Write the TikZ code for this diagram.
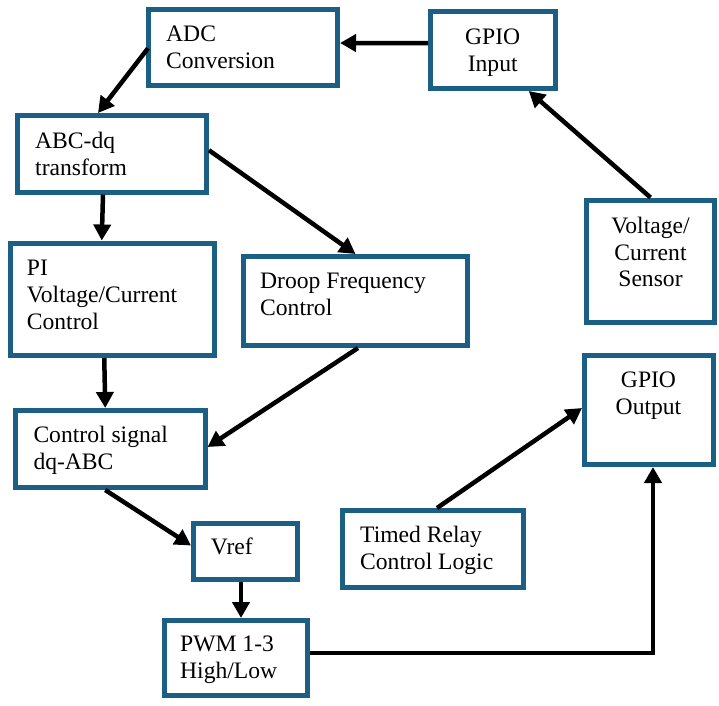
\documentclass[tikz,border=0pt]{standalone}
\usepackage{fontspec}
\setmainfont{Liberation Serif}
\usetikzlibrary{arrows.meta,calc}
\definecolor{boxblue}{HTML}{1B5F84}
\begin{document}
\begin{tikzpicture}[x=1pt,y=-1pt,
  box/.style={draw=boxblue, line width=5pt, inner sep=0pt, fill=white},
  txt/.style={inner sep=0pt, font=\fontsize{23.6}{26.7}\selectfont},
  ltxt/.style={txt, anchor=base west, align=left},
  ctxt/.style={txt, anchor=base, align=center},
  arr/.style={line width=4.5pt, -{Triangle[length=16pt,width=17pt]}}]
\useasboundingbox (0,0) rectangle (719,705);
\fill[white] (0,0) rectangle (719,705);
% boxes
\node[box, minimum width=189pt, minimum height=76.5pt] (adc) at (243,47.25) {};
\node[box, minimum width=124.5pt, minimum height=76.8pt] (gin) at (492.75,50.1) {};
\node[box, minimum width=189pt, minimum height=76.5pt] (abc) at (112,153.75) {};
\node[box, minimum width=204.5pt, minimum height=112.5pt] (pi) at (112.25,299.25) {};
\node[box, minimum width=224pt, minimum height=89pt] (droop) at (355.5,301) {};
\node[box, minimum width=128pt, minimum height=122.5pt] (sensor) at (650.5,261.25) {};
\node[box, minimum width=128.5pt, minimum height=109pt] (gout) at (648.75,410) {};
\node[box, minimum width=189.5pt, minimum height=77pt] (ctrl) at (110.25,449) {};
\node[box, minimum width=104pt, minimum height=56pt] (vref) at (245.5,551.5) {};
\node[box, minimum width=143pt, minimum height=75pt] (pwm) at (236,658) {};
\node[box, minimum width=181pt, minimum height=77pt] (timed) at (433,549) {};
% texts (anchored at baseline of last line)
\node[ltxt] (tadc) at (166,68.3) {ADC\\Conversion};
\node[ctxt] (tgin) at (492.7,71) {GPIO\\Input};
\node[ltxt] (tabc) at (35,175) {ABC-dq\\transform};
\node[ltxt] (tpi) at (26.7,329.3) {PI\\Voltage/Current\\Control};
\node[ltxt] (tdroop) at (260,315) {Droop Frequency\\Control};
\node[ctxt] (tsensor) at (650.5,286.7) {Voltage/\\Current\\Sensor};
\node[ctxt] (tgout) at (648.5,414) {GPIO\\Output};
\node[ltxt] (tctrl) at (33.3,469.3) {Control signal\\dq-ABC};
\node[ltxt] (tvref) at (210.7,554) {Vref};
\node[ltxt] (tpwm) at (180,678.3) {PWM 1-3\\High/Low};
\node[ltxt] (ttimed) at (360,569.3) {Timed Relay\\Control Logic};
% arrows
\draw[arr] ($(gin.west)+(0,-7)$) -- ($(adc.east)+(0,-4.25)$);
\draw[arr] ($(adc.west)+(2,1)$) -- ($(abc.north)+(-14,0)$);
\draw[arr] ($(abc.south)+(-9,0)$) -- ($(pi.north)+(-10.5,0)$);
\draw[arr] ($(abc.east)+(0,-3.5)$) -- (droop.north);
\draw[arr] (sensor.north) -- ($(gin.south)+(36,0)$);
\draw[arr] ($(pi.south)+(-8,0)$) -- ($(ctrl.north)+(-5,0)$);
\draw[arr] ($(droop.south)+(2.5,0)$) -- ($(ctrl.east)+(0,-2)$);
\draw[arr] ($(ctrl.south)+(-5,0)$) -- ($(vref.west)+(0,-6)$);
\draw[arr] ($(vref.south)+(-4.5,0)$) -- ($(pwm.north)+(5,0)$);
\draw[arr] ($(pwm.east)+(0,-5)$) -| ($(gout.south)+(4.25,0)$);
\draw[arr] ($(timed.north)+(4,0)$) -- ($(gout.west)+(0,-2)$);
\end{tikzpicture}
\end{document}
